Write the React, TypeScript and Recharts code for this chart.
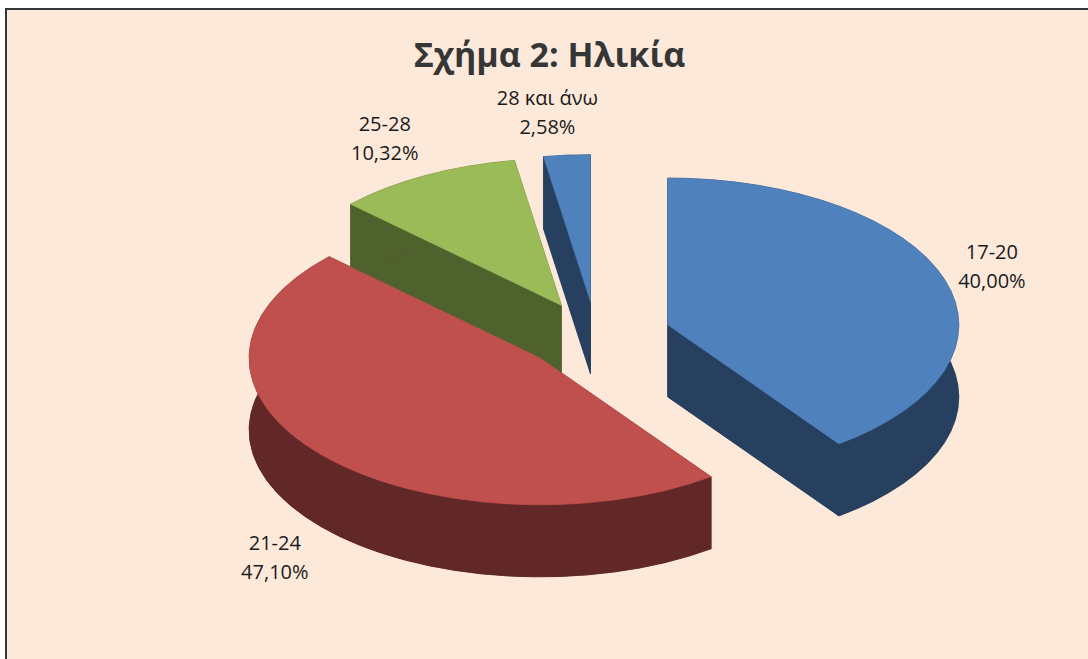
import React from 'react';
import { PieChart, Pie, Cell } from 'recharts';

// age groups and their shares (%)
const categories = ['17-20', '21-24', '25-28', '28 και άνω'];
const shares = [40.0, 47.1, 10.32, 2.58];

const topColors = ['#4F81BD', '#C0504D', '#9BBB59', '#4F81BD'];
const wallColors = ['#27405F', '#622828', '#4F612D', '#27405F'];

const data = categories.map((name, i) => ({ name, value: shares[i] }));

const W = 1088;
const H = 659;
const CX = 596.5;
const CY = 335.5;
const RX = 291;
const RY_RATIO = 0.505; // tilt of the pie plane
const DEPTH = 72;
const EXPLODE_X = 75;
const EXPLODE_Y = 34;
const RAD = Math.PI / 180;
const FONT = '"Open Sans", "DejaVu Sans", sans-serif';

const geom = (p: any) => {
  const rx = p.outerRadius;
  const ry = p.outerRadius * RY_RATIO;
  const px = p.cx + EXPLODE_X * Math.cos(p.midAngle * RAD);
  const py = p.cy - EXPLODE_Y * Math.sin(p.midAngle * RAD);
  const rim = (a: number) => [px + rx * Math.cos(a * RAD), py - ry * Math.sin(a * RAD)];
  const large = Math.abs(p.startAngle - p.endAngle) > 180 ? 1 : 0;
  const [sx, sy] = rim(p.startAngle);
  const [ex, ey] = rim(p.endAngle);
  return { rx, ry, px, py, sx, sy, ex, ey, large };
};

const WallShape = (p: any) => {
  const { rx, ry, px, py, sx, sy, ex, ey, large } = geom(p);
  const d = DEPTH;
  const paths = [
    `M${px},${py + d} L${sx},${sy + d} A${rx},${ry} 0 ${large} 1 ${ex},${ey + d} Z`,
    `M${px},${py} L${sx},${sy} L${sx},${sy + d} L${px},${py + d} Z`,
    `M${px},${py} L${ex},${ey} L${ex},${ey + d} L${px},${py + d} Z`,
    `M${sx},${sy} A${rx},${ry} 0 ${large} 1 ${ex},${ey} L${ex},${ey + d} A${rx},${ry} 0 ${large} 0 ${sx},${sy + d} Z`,
  ];
  return (
    <g>
      {paths.map((d0, i) => (
        <path key={i} d={d0} fill={p.fill} stroke={p.fill} strokeWidth={0.5} />
      ))}
    </g>
  );
};

const TopShape = (p: any) => {
  const { rx, ry, px, py, sx, sy, ex, ey, large } = geom(p);
  return (
    <path
      d={`M${px},${py} L${sx},${sy} A${rx},${ry} 0 ${large} 1 ${ex},${ey} Z`}
      fill={p.fill}
      stroke={p.fill}
      strokeWidth={0.5}
    />
  );
};

const renderLabel = (p: any) => {
  const { rx, ry, px, py } = geom(p);
  const s = Math.sin(p.midAngle * RAD);
  const c = Math.cos(p.midAngle * RAD);
  // labels in the upper-left sit a bit further left, like Excel's box placement
  const shift = c < 0 && s > 0 ? -15 : -5;
  const x = px + (rx + 55) * c + shift;
  const y = py - (ry + 43) * s + 1 + (s < 0 ? DEPTH + 2 : 0);
  const name = p.name ?? p.payload?.name;
  const pct = Number(p.value).toFixed(2).replace('.', ',') + '%';
  return (
    <text x={x} y={y} textAnchor="middle" fontFamily={FONT} fontSize={20} fill="#1a1a1a">
      <tspan x={x} y={y - 8}>{name}</tspan>
      <tspan x={x} y={y + 21}>{pct}</tspan>
    </text>
  );
};

const App: React.FC = () => {
  return (
    <div style={{ position: 'absolute', left: 0, top: 0, width: W, height: H, overflow: 'hidden' }}>
      <div
        style={{
          position: 'absolute',
          left: 5,
          top: 8,
          width: 1200,
          height: 800,
          border: '2px solid #353535',
          background: '#FDE9DA',
        }}
      />
      <svg width={W} height={H} style={{ position: 'absolute', left: 0, top: 0 }}>
        <text
          x={549.5}
          y={67}
          textAnchor="middle"
          fontFamily={FONT}
          fontWeight="bold"
          fontSize={34}
          fill="#363636"
        >
          Σχήμα 2: Ηλικία
        </text>
      </svg>
      <div style={{ position: 'absolute', left: 0, top: 0 }}>
        <PieChart width={W} height={H} margin={{ top: 0, right: 0, bottom: 0, left: 0 }}>
          <Pie
            data={data}
            dataKey="value"
            nameKey="name"
            cx={CX}
            cy={CY}
            outerRadius={RX}
            startAngle={90}
            endAngle={-270}
            shape={WallShape}
            label={false}
            labelLine={false}
            isAnimationActive={false}
          >
            {data.map((_, i) => (
              <Cell key={i} fill={wallColors[i]} />
            ))}
          </Pie>
          <Pie
            data={data}
            dataKey="value"
            nameKey="name"
            cx={CX}
            cy={CY}
            outerRadius={RX}
            startAngle={90}
            endAngle={-270}
            shape={TopShape}
            label={renderLabel}
            labelLine={false}
            isAnimationActive={false}
          >
            {data.map((_, i) => (
              <Cell key={i} fill={topColors[i]} />
            ))}
          </Pie>
        </PieChart>
      </div>
    </div>
  );
};

export default App;
